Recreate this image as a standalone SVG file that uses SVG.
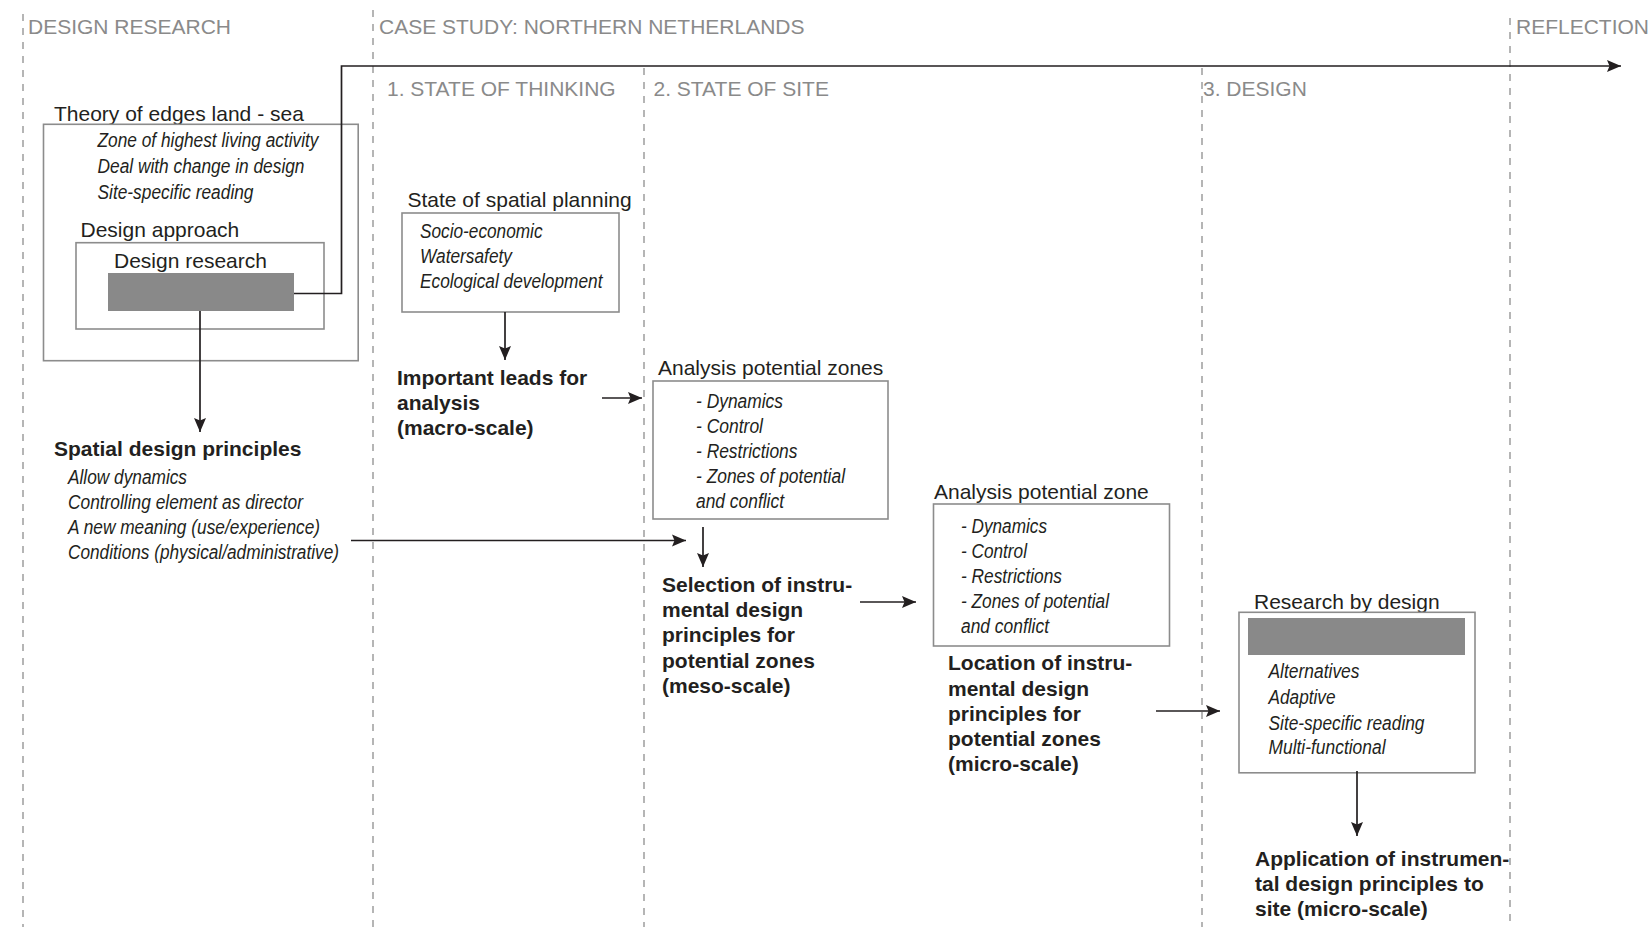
<svg xmlns="http://www.w3.org/2000/svg" width="1652" height="927" viewBox="0 0 1652 927">
<defs>
<marker id="ah" markerUnits="userSpaceOnUse" markerWidth="16" markerHeight="13" refX="14" refY="6.5" orient="auto">
<path d="M0,0.5 L14,6.5 L0,12.5 L2.5,6.5 Z" fill="#231f20"/>
</marker>
</defs>
<style>
.hdr{font-family:"Liberation Sans",Arial,sans-serif;font-size:21px;fill:#8a8a8a}
.ttl{font-family:"Liberation Sans",Arial,sans-serif;font-size:21px;fill:#231f20}
.bld{font-family:"Liberation Sans",Arial,sans-serif;font-size:21px;font-weight:bold;fill:#231f20}
.it{font-family:"Liberation Sans",Arial,sans-serif;font-size:20.5px;font-style:italic;fill:#231f20}
.box{fill:none;stroke:#8c8c8c;stroke-width:1.6}
.bar{fill:#898989}
.dash{stroke:#8e8e8e;stroke-width:1.3;stroke-dasharray:7 7;fill:none}
.con{stroke:#231f20;stroke-width:1.7;fill:none;marker-end:url(#ah)}
</style>
<rect x="0" y="0" width="1652" height="927" fill="#ffffff"/>
<g id="phases">
<line class="dash" x1="23" y1="14" x2="23" y2="927"/>
<line class="dash" x1="373" y1="10" x2="373" y2="927"/>
<line class="dash" x1="644" y1="68" x2="644" y2="927"/>
<line class="dash" x1="1202" y1="68" x2="1202" y2="927"/>
<line class="dash" x1="1510" y1="18" x2="1510" y2="927"/>
<text class="hdr" x="28" y="33.5">DESIGN RESEARCH</text>
<text class="hdr" x="379" y="33.5">CASE STUDY: NORTHERN NETHERLANDS</text>
<text class="hdr" x="1516" y="33.5">REFLECTION</text>
<text class="hdr" x="387" y="95.5">1. STATE OF THINKING</text>
<text class="hdr" x="653.5" y="95.5">2. STATE OF SITE</text>
<text class="hdr" x="1203" y="95.5">3. DESIGN</text>
</g>
<g id="theory">
<text class="ttl" x="54" y="121">Theory of edges land - sea</text>
<rect class="box" x="43.5" y="124.3" width="314.7" height="236.4"/>
<text class="it" x="97.5" y="147" textLength="221" lengthAdjust="spacingAndGlyphs">Zone of highest living activity</text>
<text class="it" x="97.5" y="173" textLength="207" lengthAdjust="spacingAndGlyphs">Deal with change in design</text>
<text class="it" x="97.5" y="199" textLength="156" lengthAdjust="spacingAndGlyphs">Site-specific reading</text>
</g>
<g id="design-approach">
<text class="ttl" x="80.5" y="237">Design approach</text>
<rect class="box" x="76" y="242.7" width="248" height="86.3"/>
</g>
<g id="design-research">
<text class="ttl" x="114" y="268">Design research</text>
<rect class="bar" x="108" y="273" width="186" height="38"/>
</g>
<g id="spatial-principles">
<text class="bld" x="54" y="456">Spatial design principles</text>
<text class="it" x="68" y="484" textLength="119" lengthAdjust="spacingAndGlyphs">Allow dynamics</text>
<text class="it" x="68" y="509" textLength="235" lengthAdjust="spacingAndGlyphs">Controlling element as director</text>
<text class="it" x="68" y="534" textLength="252" lengthAdjust="spacingAndGlyphs">A new meaning (use/experience)</text>
<text class="it" x="68" y="559" textLength="271" lengthAdjust="spacingAndGlyphs">Conditions (physical/administrative)</text>
</g>
<g id="spatial-planning">
<text class="ttl" x="407.5" y="207">State of spatial planning</text>
<rect class="box" x="402" y="213" width="217" height="99"/>
<text class="it" x="420" y="238" textLength="122.5" lengthAdjust="spacingAndGlyphs">Socio-economic</text>
<text class="it" x="420" y="263" textLength="92" lengthAdjust="spacingAndGlyphs">Watersafety</text>
<text class="it" x="420" y="288" textLength="182.5" lengthAdjust="spacingAndGlyphs">Ecological development</text>
</g>
<g id="important-leads">
<text class="bld" x="397" y="385">Important leads for</text>
<text class="bld" x="397" y="410">analysis</text>
<text class="bld" x="397" y="435">(macro-scale)</text>
</g>
<g id="analysis-zones">
<text class="ttl" x="658" y="375">Analysis potential zones</text>
<rect class="box" x="653" y="381" width="235" height="138"/>
<text class="it" x="696" y="408" textLength="87" lengthAdjust="spacingAndGlyphs">- Dynamics</text>
<text class="it" x="696" y="433" textLength="67" lengthAdjust="spacingAndGlyphs">- Control</text>
<text class="it" x="696" y="458" textLength="101.5" lengthAdjust="spacingAndGlyphs">- Restrictions</text>
<text class="it" x="696" y="483" textLength="149" lengthAdjust="spacingAndGlyphs">- Zones of potential</text>
<text class="it" x="696" y="508" textLength="88" lengthAdjust="spacingAndGlyphs">and conflict</text>
</g>
<g id="selection">
<text class="bld" x="662" y="592">Selection of instru-</text>
<text class="bld" x="662" y="617">mental design</text>
<text class="bld" x="662" y="642">principles for</text>
<text class="bld" x="662" y="667.5">potential zones</text>
<text class="bld" x="662" y="693">(meso-scale)</text>
</g>
<g id="analysis-zone">
<text class="ttl" x="934" y="499">Analysis potential zone</text>
<rect class="box" x="933.5" y="504" width="236" height="142"/>
<text class="it" x="961" y="533" textLength="86" lengthAdjust="spacingAndGlyphs">- Dynamics</text>
<text class="it" x="961" y="558" textLength="66" lengthAdjust="spacingAndGlyphs">- Control</text>
<text class="it" x="961" y="583" textLength="101" lengthAdjust="spacingAndGlyphs">- Restrictions</text>
<text class="it" x="961" y="608" textLength="148" lengthAdjust="spacingAndGlyphs">- Zones of potential</text>
<text class="it" x="961" y="633" textLength="88" lengthAdjust="spacingAndGlyphs">and conflict</text>
</g>
<g id="location">
<text class="bld" x="948" y="670">Location of instru-</text>
<text class="bld" x="948" y="695.5">mental design</text>
<text class="bld" x="948" y="720.5">principles for</text>
<text class="bld" x="948" y="746">potential zones</text>
<text class="bld" x="948" y="771">(micro-scale)</text>
</g>
<g id="research-by-design">
<text class="ttl" x="1254" y="609">Research by design</text>
<rect class="box" x="1239" y="612.3" width="236" height="160.5"/>
<rect class="bar" x="1248" y="618" width="217" height="37"/>
<text class="it" x="1268.5" y="678" textLength="91" lengthAdjust="spacingAndGlyphs">Alternatives</text>
<text class="it" x="1268.5" y="704" textLength="67" lengthAdjust="spacingAndGlyphs">Adaptive</text>
<text class="it" x="1268.5" y="729.5" textLength="156" lengthAdjust="spacingAndGlyphs">Site-specific reading</text>
<text class="it" x="1268.5" y="754" textLength="117" lengthAdjust="spacingAndGlyphs">Multi-functional</text>
</g>
<g id="application">
<text class="bld" x="1255" y="866">Application of instrumen-</text>
<text class="bld" x="1255" y="891">tal design principles to</text>
<text class="bld" x="1255" y="916">site (micro-scale)</text>
</g>
<g id="connectors">
<path class="con" d="M294,293.5 H341.5 V66 H1621" stroke-width="2"/>
<path class="con" d="M200,311 V432"/>
<path class="con" d="M505,312 V360"/>
<path class="con" d="M602,398 H642"/>
<path class="con" d="M351,540.5 H686"/>
<path class="con" d="M703,527 V567"/>
<path class="con" d="M860,602 H916"/>
<path class="con" d="M1156,711 H1220"/>
<path class="con" d="M1357,771 V836"/>
</g>
</svg>
